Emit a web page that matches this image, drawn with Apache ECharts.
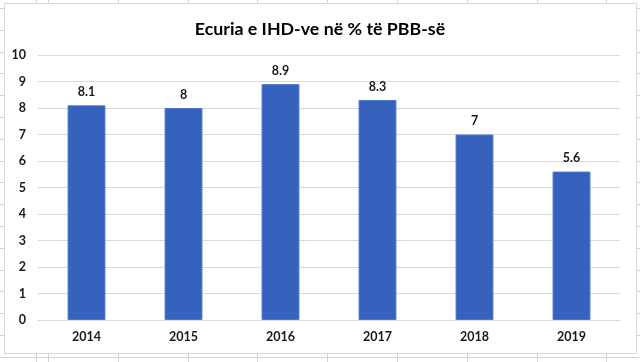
<!DOCTYPE html>
<html>
<head>
<meta charset="utf-8">
<script src="https://cdn.jsdelivr.net/npm/echarts@6/dist/echarts.min.js"></script>
<style>
  html, body { margin: 0; padding: 0; width: 640px; height: 362px; overflow: hidden; }
  body {
    background-color: #ffffff;
    background-image:
      repeating-linear-gradient(to right, #d4d4d4 0 1px, transparent 1px 69.8px),
      repeating-linear-gradient(to bottom, #d4d4d4 0 1px, transparent 1px 21.8px);
    background-position: 48px 0, 0 8px;
  }
  #frame { position: absolute; left: 4px; top: 3px; width: 631px; height: 349px; background: #fff; border: 1px solid #d9d9d9; }
  #main { position: absolute; left: 0; top: 0; width: 640px; height: 362px; }
</style>
</head>
<body>
<div id="frame"></div>
<div id="main"></div>
<script>
const titleText = 'Ecuria e IHD-ve në % të PBB-së';
const categories = ['2014', '2015', '2016', '2017', '2018', '2019'];
const values = [8.1, 8, 8.9, 8.3, 7, 5.6];
const yMin = 0, yMax = 10, yInterval = 1;

const chart = echarts.init(document.getElementById('main'), null, { renderer: 'canvas' });
chart.setOption({
  backgroundColor: 'transparent',
  animation: false,
  title: {
    text: titleText,
    left: 'center',
    top: 15,
    textStyle: { fontFamily: 'Lato', fontWeight: 'bold', fontSize: 17.8, color: '#000' }
  },
  grid: { left: 38, right: 20, top: 55, bottom: 42, containLabel: false },
  xAxis: {
    type: 'category',
    data: categories,
    axisLine: { show: true, lineStyle: { color: '#d9d9d9', width: 1 } },
    axisTick: { show: false },
    axisLabel: { margin: 10, fontFamily: 'Lato', fontWeight: 'bold', fontSize: 12.5, color: '#1a1a1a' }
  },
  yAxis: {
    type: 'value',
    min: yMin, max: yMax, interval: yInterval,
    axisLine: { show: false },
    axisTick: { show: false },
    splitLine: { lineStyle: { color: '#d9d9d9', width: 1 } },
    axisLabel: { margin: 12, fontFamily: 'Lato', fontWeight: 'bold', fontSize: 12.5, color: '#1a1a1a' }
  },
  series: [{
    type: 'bar',
    data: values,
    barWidth: '39%',
    itemStyle: { color: '#3662BE', borderColor: '#4A75C8', borderWidth: 1 },
    label: {
      show: true, position: 'top', distance: 7,
      fontFamily: 'Lato', fontWeight: 'bold', fontSize: 12.5, color: '#1a1a1a'
    }
  }]
});
</script>
</body>
</html>
